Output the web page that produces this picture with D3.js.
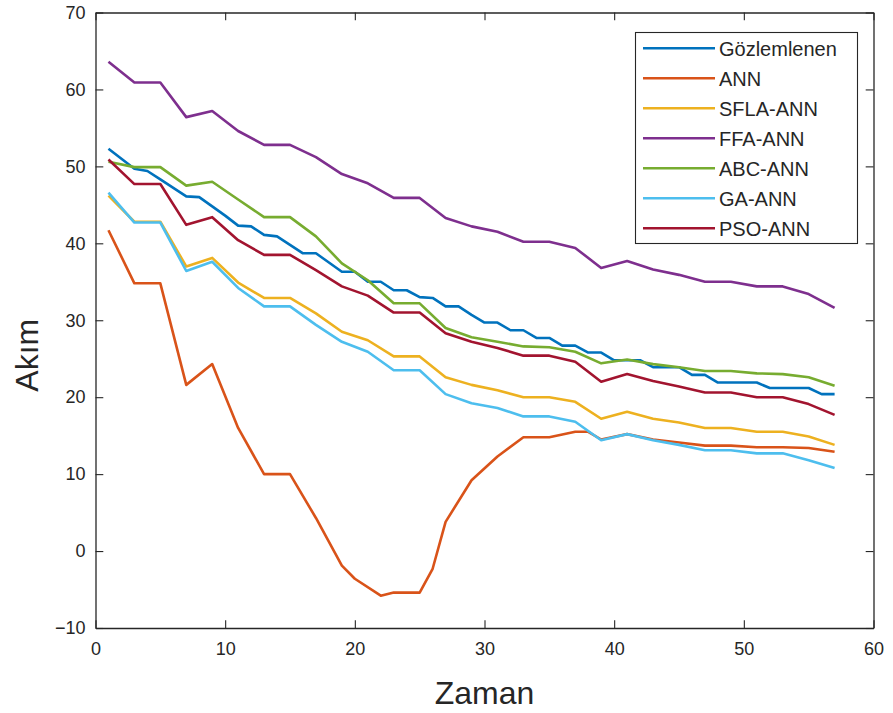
<!DOCTYPE html>
<html>
<head>
<meta charset="utf-8">
<script src="https://cdn.jsdelivr.net/npm/d3@7"></script>
<style>
  html, body { margin: 0; padding: 0; background: #fff; }
  text { font-family: "Liberation Sans", Arial, sans-serif; fill: #262626; }
</style>
</head>
<body>
<svg id="chart" width="893" height="713"></svg>
<script>
// ---------- data ----------
const seriesNames = ["Gözlemlenen", "ANN", "SFLA-ANN", "FFA-ANN", "ABC-ANN", "GA-ANN", "PSO-ANN"];
const seriesColors = ["#0072BD", "#D95319", "#EDB120", "#7E2F8E", "#77AC30", "#4DBEEE", "#A2142F"];

const xObserved = d3.range(1, 58);
const observed = [52.3, 51.0, 49.7, 49.4, 48.3, 47.2, 46.1, 46.0, 44.8, 43.6,
  42.3, 42.2, 41.1, 40.9, 39.8, 38.7, 38.7, 37.5, 36.3, 36.3,
  35.0, 35.0, 33.9, 33.9, 33.0, 32.9, 31.8, 31.8, 30.7, 29.7,
  29.7, 28.7, 28.7, 27.7, 27.7, 26.7, 26.7, 25.8, 25.8, 24.8,
  24.8, 24.8, 23.9, 23.9, 23.9, 22.9, 22.9, 21.9, 21.9, 21.9,
  21.9, 21.2, 21.2, 21.2, 21.2, 20.4, 20.4];

const xAnn = [1, 3, 5, 7, 9, 11, 13, 15, 17, 19, 20, 22, 23, 25, 26, 27, 29, 31, 33, 35, 37, 38, 39, 41, 43, 45, 47, 49, 51, 53, 55, 57];
const ann = [41.7, 34.8, 34.8, 21.6, 24.3, 16.0, 10.0, 10.0, 4.3, -1.9, -3.6, -5.8, -5.4, -5.4, -2.3, 3.8, 9.2, 12.3, 14.8, 14.8, 15.5, 15.5, 14.5, 15.2, 14.5, 14.1, 13.7, 13.7, 13.5, 13.5, 13.4, 12.9];

const xOdd = d3.range(1, 58, 2);
const sfla = [46.2, 42.8, 42.8, 37.0, 38.1, 34.9, 32.9, 32.9, 30.9, 28.5, 27.4, 25.3, 25.3, 22.6, 21.6, 20.9, 20.0, 20.0, 19.4, 17.2, 18.1, 17.2, 16.7, 16.0, 16.0, 15.5, 15.5, 14.9, 13.8];
const ffa  = [63.6, 60.9, 60.9, 56.4, 57.2, 54.6, 52.8, 52.8, 51.2, 49.0, 47.8, 45.9, 45.9, 43.3, 42.2, 41.5, 40.2, 40.2, 39.4, 36.8, 37.7, 36.6, 35.9, 35.0, 35.0, 34.4, 34.4, 33.4, 31.6];
const abc  = [50.6, 49.9, 49.9, 47.5, 48.0, 45.7, 43.4, 43.4, 40.9, 37.4, 35.2, 32.2, 32.2, 29.0, 27.8, 27.2, 26.6, 26.5, 25.9, 24.4, 24.9, 24.3, 23.9, 23.4, 23.4, 23.1, 23.0, 22.6, 21.5];
const ga   = [46.6, 42.7, 42.7, 36.4, 37.6, 34.2, 31.8, 31.8, 29.4, 27.2, 25.9, 23.5, 23.5, 20.4, 19.2, 18.6, 17.5, 17.5, 16.8, 14.4, 15.2, 14.4, 13.8, 13.1, 13.1, 12.7, 12.7, 11.8, 10.8];
const pso  = [50.9, 47.7, 47.7, 42.4, 43.4, 40.4, 38.5, 38.5, 36.5, 34.4, 33.2, 31.0, 31.0, 28.3, 27.2, 26.4, 25.4, 25.4, 24.6, 22.0, 23.0, 22.1, 21.4, 20.6, 20.6, 20.0, 20.0, 19.1, 17.7];

const xTicks = [0, 10, 20, 30, 40, 50, 60];
const yTicks = [-10, 0, 10, 20, 30, 40, 50, 60, 70];
const xLabel = "Zaman";
const yLabel = "Akım";

const seriesX = [xObserved, xAnn, xOdd, xOdd, xOdd, xOdd, xOdd];
const seriesY = [observed, ann, sfla, ffa, abc, ga, pso];

// ---------- layout ----------
const L = 95.5, R = 873.5, T = 12.5, B = 628;
const svg = d3.select("#chart");
const x = d3.scaleLinear().domain([0, 60]).range([L, R]);
const y = d3.scaleLinear().domain([-10, 70]).range([B, T]);
const axisColor = "#262626";
const tickLen = 7.8;

// lines
const line = d3.line().x(d => x(d[0])).y(d => y(d[1]));
seriesNames.forEach((name, i) => {
  const pts = seriesX[i].map((xv, j) => [xv, seriesY[i][j]]);
  svg.append("path")
    .datum(pts)
    .attr("d", line)
    .attr("fill", "none")
    .attr("stroke", seriesColors[i])
    .attr("stroke-width", 2.6)
    .attr("stroke-linejoin", "round");
});

// axes (box with ticks inside on all four sides)
const gBottom = svg.append("g").attr("transform", `translate(0,${B})`)
  .call(d3.axisBottom(x).tickValues(xTicks).tickSizeInner(-tickLen).tickSizeOuter(0).tickPadding(14));
const gTop = svg.append("g").attr("transform", `translate(0,${T})`)
  .call(d3.axisTop(x).tickValues(xTicks).tickSizeInner(-tickLen).tickSizeOuter(0).tickFormat(""));
const gLeft = svg.append("g").attr("transform", `translate(${L},0)`)
  .call(d3.axisLeft(y).tickValues(yTicks).tickSizeInner(-tickLen).tickSizeOuter(0).tickPadding(10));
const gRight = svg.append("g").attr("transform", `translate(${R},0)`)
  .call(d3.axisRight(y).tickValues(yTicks).tickSizeInner(-tickLen).tickSizeOuter(0).tickFormat(""));

[gBottom, gTop, gLeft, gRight].forEach(g => {
  g.select(".domain").attr("stroke", axisColor).attr("stroke-width", 1.3);
  g.selectAll(".tick line").attr("stroke", axisColor).attr("stroke-width", 1.1);
  g.selectAll(".tick text")
    .attr("fill", axisColor)
    .style("font-size", "18px")
    .style("font-family", '"Liberation Sans", Arial, sans-serif');
});
// hide tick marks at the corners duplicated by the box edges (keep as in MATLAB; harmless)

// axis labels
svg.append("text")
  .attr("x", (L + R) / 2)
  .attr("y", 704)
  .attr("text-anchor", "middle")
  .style("font-size", "32px")
  .text(xLabel);

svg.append("text")
  .attr("transform", `translate(38,${(T + B) / 2 + 35}) rotate(-90)`)
  .attr("text-anchor", "middle")
  .style("font-size", "32px")
  .text(yLabel);

// legend
const lg = svg.append("g");
const lx = 635.5, ly = 32.5, lw = 222, lh = 211;
lg.append("rect")
  .attr("x", lx).attr("y", ly).attr("width", lw).attr("height", lh)
  .attr("fill", "#fff").attr("stroke", axisColor).attr("stroke-width", 1.1);
seriesNames.forEach((name, i) => {
  const cy = 48.3 + i * 30;
  lg.append("line")
    .attr("x1", 643).attr("x2", 715)
    .attr("y1", cy).attr("y2", cy)
    .attr("stroke", seriesColors[i]).attr("stroke-width", 2.6);
  lg.append("text")
    .attr("x", 719).attr("y", cy)
    .attr("dy", "0.36em")
    .style("font-size", "20px")
    .text(name);
});
</script>
</body>
</html>
